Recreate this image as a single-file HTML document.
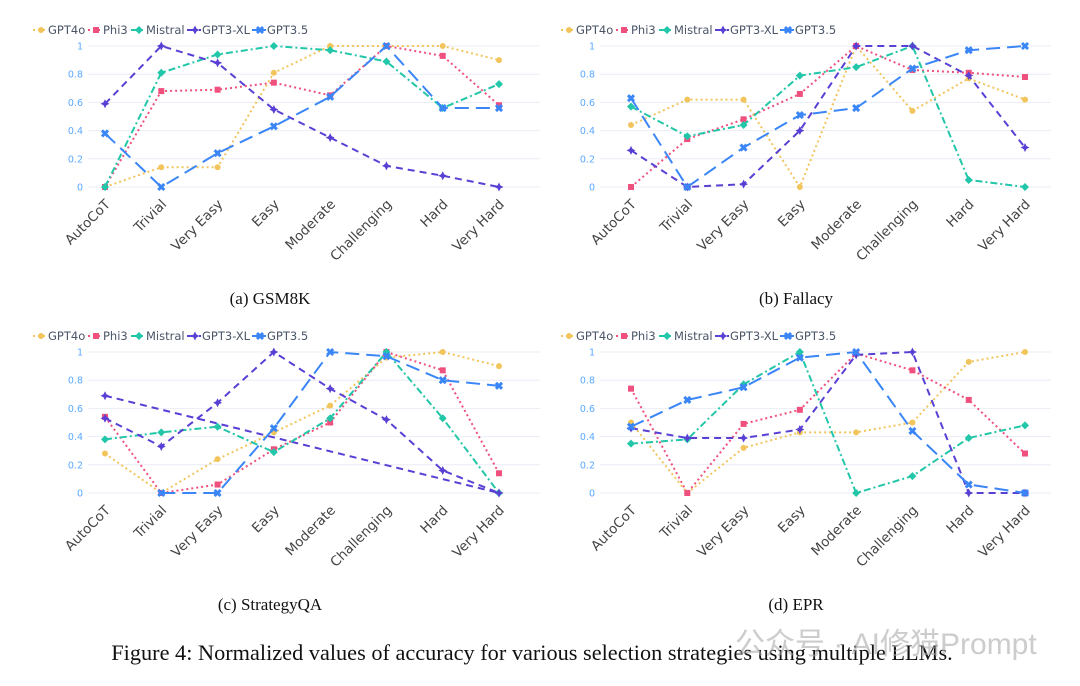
<!DOCTYPE html>
<html><head><meta charset="utf-8"><style>
html,body{margin:0;padding:0;background:#fff;}
svg{display:block;}
</style></head><body>
<svg id="fig" width="1080" height="686" viewBox="0 0 1080 686" xmlns="http://www.w3.org/2000/svg">
<text x="270" y="304" text-anchor="middle" font-family="Liberation Serif, serif" font-size="17" fill="#111">(a) GSM8K</text>
<text x="796" y="304" text-anchor="middle" font-family="Liberation Serif, serif" font-size="17" fill="#111">(b) Fallacy</text>
<text x="270" y="610" text-anchor="middle" font-family="Liberation Serif, serif" font-size="17" fill="#111">(c) StrategyQA</text>
<text x="796" y="610" text-anchor="middle" font-family="Liberation Serif, serif" font-size="17" fill="#111">(d) EPR</text>
<text x="532" y="660" text-anchor="middle" font-family="Liberation Serif, serif" font-size="22.3" fill="#111">Figure 4: Normalized values of accuracy for various selection strategies using multiple LLMs.</text>
<text x="735" y="654" font-family="Liberation Sans, Noto Sans CJK SC, sans-serif" font-size="30" fill="#aaa" fill-opacity="0.6">公众号 · AI修猫Prompt</text>
</svg>
<script>
const categories=["AutoCoT","Trivial","Very Easy","Easy","Moderate","Challenging","Hard","Very Hard"];
const seriesNames=["GPT4o","Phi3","Mistral","GPT3-XL","GPT3.5"];
const yTicks=[0,0.2,0.4,0.6,0.8,1];
const yTickLabels=["0","0.2","0.4","0.6","0.8","1"];
const gsm8k=[
[0,0.14,0.14,0.81,1,1,1,0.9],
[0,0.68,0.69,0.74,0.65,1,0.93,0.58],
[0,0.81,0.94,1,0.97,0.89,0.56,0.73],
[0.59,1,0.88,0.55,0.35,0.15,0.08,0],
[0.38,0,0.24,0.43,0.64,1,0.56,0.56]];
const fallacy=[
[0.44,0.62,0.62,0,1,0.54,0.77,0.62],
[0,0.34,0.48,0.66,1,0.83,0.81,0.78],
[0.57,0.36,0.44,0.79,0.85,1,0.05,0],
[0.26,0,0.02,0.40,1,1,0.79,0.28],
[0.63,0,0.28,0.51,0.56,0.84,0.97,1]];
const strategyqa=[
[0.28,0,0.24,0.43,0.62,0.96,1,0.90],
[0.54,0,0.06,0.31,0.50,1,0.87,0.14],
[0.38,0.43,0.47,0.29,0.53,1,0.53,0],
[0.53,0.33,0.64,1,0.74,0.52,0.16,0],
[null,0,0,0.46,1,0.97,0.80,0.76]];
const strategyqaXlExtra=[0.69,0];
const epr=[
[0.50,0,0.32,0.43,0.43,0.50,0.93,1],
[0.74,0,0.49,0.59,0.99,0.87,0.66,0.28],
[0.35,0.38,0.77,1,0,0.12,0.39,0.48],
[0.46,0.39,0.39,0.45,0.98,1,0,0],
[0.47,0.66,0.75,0.96,1,0.44,0.06,0]];

const colors=["#f2c55c","#f0507e","#22c6a8","#5a3fd4","#3b86f7"];
const dashes=["2,3","2,3","7,3,2,3","7,5","14,7"];
const NS="http://www.w3.org/2000/svg";
const svg=document.getElementById('fig');
function mk(tag,attrs,parent){const e=document.createElementNS(NS,tag);for(const k in attrs)e.setAttribute(k,attrs[k]);(parent||svg).appendChild(e);return e;}
function marker(g,i,x,y){
  const c=colors[i];let m;
  if(i===0)m=mk('circle',{cx:x,cy:y,r:3,fill:c},g);
  else if(i===1)m=mk('rect',{x:x-3,y:y-3,width:6,height:6,fill:c},g);
  else if(i===2)m=mk('path',{d:`M${x},${y-4}L${x+4},${y}L${x},${y+4}L${x-4},${y}Z`,fill:c},g);
  else if(i===3)m=mk('path',{d:`M${x},${y-4.5}L${x+1.5},${y-1.5}L${x+4.5},${y}L${x+1.5},${y+1.5}L${x},${y+4.5}L${x-1.5},${y+1.5}L${x-4.5},${y}L${x-1.5},${y-1.5}Z`,fill:c},g);
  else m=mk('path',{d:`M${x-3},${y-3}L${x+3},${y+3}M${x+3},${y-3}L${x-3},${y+3}`,stroke:c,'stroke-width':3},g);
  return m;
}
function panel(name,data,ox,oy,legX,gridL,gridR,extra){
  const x0=ox, dx=(394)/7, yTop=oy, yBot=oy+141;
  const xs=i=>x0+i*dx;
  const ys=v=>yBot-v*(yBot-yTop);
  const g=mk('g',{});
  
  
  yTicks.forEach((t,k)=>{
    const l=mk('line',{x1:gridL,x2:gridR,y1:ys(t),y2:ys(t),stroke:'#e9eef5','stroke-width':1},g);
    
    
    const tx=mk('text',{x:gridL-5,y:ys(t)+3.5,'text-anchor':'end','font-family':'DejaVu Sans, sans-serif','font-size':9.5,fill:'#5aa9ff'},g);
    tx.textContent=yTickLabels[k];
    
    
  });
  categories.forEach((c,i)=>{
    const tx=mk('text',{x:0,y:0,'text-anchor':'end','font-family':'DejaVu Sans, sans-serif','font-size':13.5,fill:'#444',transform:`translate(${xs(i)+6},${yBot+18}) rotate(-45)`},g);
    tx.textContent=c;
    
    
  });
  const draw=(i,vals,idx)=>{
    let d='';let pen=false;
    vals.forEach((v,k)=>{if(v===null){pen=false;return;}d+=(pen?'L':'M')+xs(idx[k])+','+ys(v);pen=true;});
    const p=mk('path',{d:d,fill:'none',stroke:colors[i],'stroke-width':2,'stroke-dasharray':dashes[i]},g);
    
    
    vals.forEach((v,k)=>{if(v===null)return;const m=marker(g,i,xs(idx[k]),ys(v));
      
      });
  };
  if(extra)draw(3,extra,[0,7]);
  data.forEach((vals,i)=>draw(i,vals,vals.map((_,k)=>k)));
  const legOffsets=[0,55,98,154,219];
  seriesNames.forEach((s,i)=>{
    const lg=mk('g',{},g);
    
    
    const lx=legX+legOffsets[i], ly=yTop-16;
    mk('line',{x1:lx,x2:lx+14,y1:ly,y2:ly,stroke:colors[i],'stroke-width':2,'stroke-dasharray':dashes[i]},lg);
    marker(lg,i,lx+8,ly);
    const tx=mk('text',{x:lx+15,y:ly+4,'font-family':'DejaVu Sans, sans-serif','font-size':11.5,fill:'#4a5568'},lg);
    tx.textContent=s;
  });
}
panel('gsm8k',gsm8k,105,46,33,88,540,null);
panel('fallacy',fallacy,631,46,561,600,1051,null);
panel('strategyqa',strategyqa,105,352,33,88,540,strategyqaXlExtra);
panel('epr',epr,631,352,561,600,1051,null);
</script>
</body></html>
